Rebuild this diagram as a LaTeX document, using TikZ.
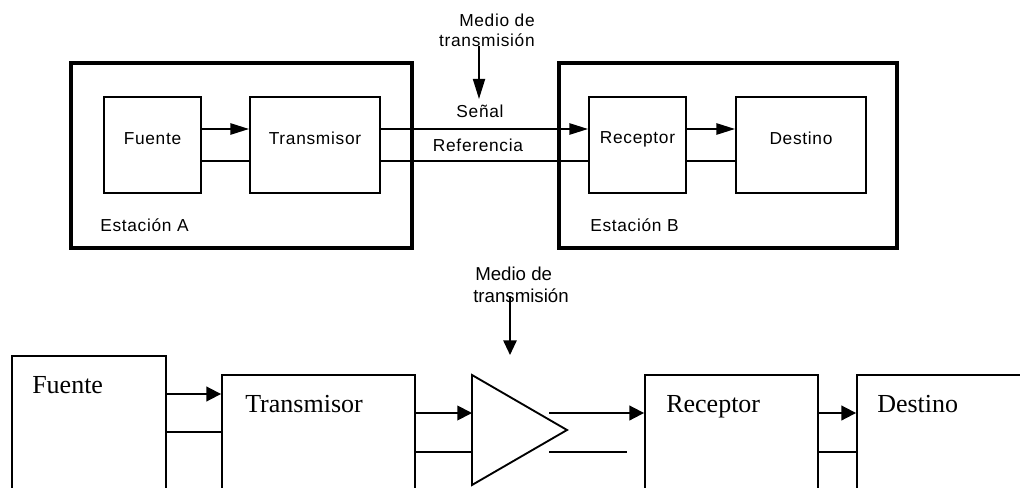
\documentclass[tikz,border=0pt]{standalone}
\usepackage{fontspec}
\usetikzlibrary{arrows.meta,fit}
\newfontfamily\arialf[LetterSpace=4]{Liberation Sans}
\newfontfamily\arialm{Liberation Sans}
\newfontfamily\tnrf{Liberation Serif}
\begin{document}
\begin{tikzpicture}[x=0.75pt,y=-0.75pt,
 station/.style={draw,line width=3pt,inner sep=0pt},
 topbox/.style={draw,line width=1.5pt,inner sep=0pt,font=\arialf\fontsize{13}{15}\selectfont},
 toptxt/.style={font=\arialf\fontsize{13}{15}\selectfont,inner sep=0pt},
 topln/.style={line width=1.3pt},
 toparr/.style={line width=1.3pt,-{Triangle[length=14pt,width=8.5pt]}},
 botbox/.style={draw,line width=1.4pt,inner sep=0pt},
 bottxt/.style={font=\tnrf\fontsize{19.5}{22}\selectfont,inner sep=0pt},
 medtxt/.style={font=\arialm\fontsize{14}{16}\selectfont,inner sep=0pt},
 botln/.style={line width=1.4pt},
 botarr/.style={line width=1.4pt,-{Triangle[length=11pt,width=11pt]}},
]
\useasboundingbox (0,0) rectangle (1020,488);
\clip (0,0) rectangle (1020,488);

% ---------- top diagram ----------
\node[station,fit={(71,63)(412,248)}] (stA) {};
\node[station,fit={(559,63)(897,248)}] (stB) {};
\node[topbox,fit={(104,97)(201,193)}] (fA) {Fuente};
\node[topbox,fit={(250,97)(380,193)}] (tA) {Transmisor};
\node[topbox,fit={(589,97)(686,193)}] (rA) {Receptor};
\node[topbox,fit={(736,97)(866,193)}] (dA) {Destino};
\node[toptxt,anchor=base west] (estA) at (100,232) {Estación A};
\node[toptxt,anchor=base west] (estB) at (590,232) {Estación B};
\node[toptxt,anchor=base] (sen) at (480,118) {Señal};
\node[toptxt,anchor=base] (ref) at (478,152) {Referencia};
\node[toptxt,anchor=base east] (mA1) at (535,27) {Medio de};
\node[toptxt,anchor=base east] (mA2) at (535,47) {transmisión};
\coordinate (mAtip) at (479,99);

\draw[toparr] (fA.east |- 0,129) -- (tA.west |- 0,129);
\draw[topln] (fA.east |- 0,161) -- (tA.west |- 0,161);
\draw[toparr] (tA.east |- 0,129) -- (rA.west |- 0,129);
\draw[topln] (tA.east |- 0,161) -- (rA.west |- 0,161);
\draw[toparr] (rA.east |- 0,129) -- (dA.west |- 0,129);
\draw[topln] (rA.east |- 0,161) -- (dA.west |- 0,161);
\draw[line width=1.3pt,-{Triangle[length=15pt,width=9pt]}] (mAtip |- 0,46) -- (mAtip);

% ---------- bottom diagram ----------
\node[botbox,fit={(12,356)(166,530)}] (fB) {};
\node[botbox,fit={(222,375)(415,530)}] (tB) {};
\node[botbox,fit={(645,375)(818,530)}] (rB) {};
\node[botbox,fit={(857,375)(1040,530)}] (dB) {};
\node[bottxt,anchor=base west] (fBt) at (32,393) {Fuente};
\node[bottxt,anchor=base west] (tBt) at (245,412) {Transmisor};
\node[bottxt,anchor=base west] (rBt) at (666,412) {Receptor};
\node[bottxt,anchor=base west] (dBt) at (877,412) {Destino};
\node[medtxt,anchor=base west] (mB1) at (475,281) {Medio de};
\node[medtxt,anchor=base west] (mB2) at (473,302) {transmisión};

\coordinate (a1) at (472,375);
\coordinate (a2) at (472,485);
\coordinate (a3) at (567,430);
\draw[botln,line join=miter] (a1) -- (a3) -- (a2) -- cycle;
\coordinate (mBtip) at (510,355);
\draw[line width=1.4pt,-{Triangle[length=11pt,width=10pt]}] (mBtip |- 0,296) -- (mBtip);

\draw[botarr] (fB.east |- 0,394) -- (tB.west |- 0,394);
\draw[botln] (fB.east |- 0,432) -- (tB.west |- 0,432);
\draw[botarr] (tB.east |- 0,413) -- (a1 |- 0,413);
\draw[botln] (tB.east |- 0,452) -- (a1 |- 0,452);
\coordinate (o1) at (549,413);
\coordinate (o2) at (549,452);
\coordinate (o2e) at (627,452);
\draw[botarr] (o1) -- (rB.west |- o1);
\draw[botln] (o2) -- (o2e);
\draw[botarr] (rB.east |- 0,413) -- (dB.west |- 0,413);
\draw[botln] (rB.east |- 0,452) -- (dB.west |- 0,452);
\end{tikzpicture}
\end{document}
